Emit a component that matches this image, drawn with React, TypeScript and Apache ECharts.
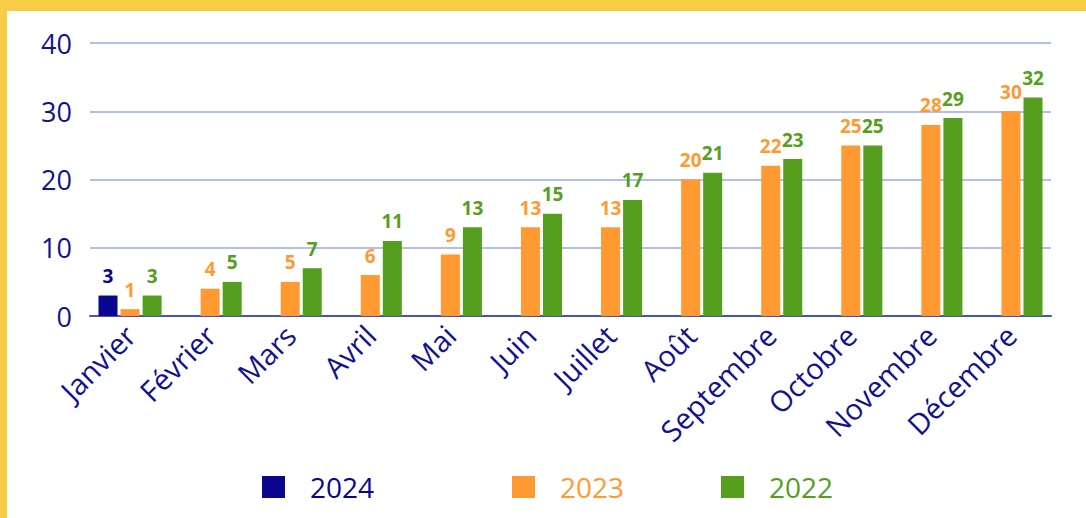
import React, { useEffect, useRef } from "react";
import * as echarts from "echarts";

const months = ["Janvier", "Février", "Mars", "Avril", "Mai", "Juin", "Juillet", "Août", "Septembre", "Octobre", "Novembre", "Décembre"];
const s2024: (number | null)[] = [3, null, null, null, null, null, null, null, null, null, null, null];
const s2023 = [1, 4, 5, 6, 9, 13, 13, 20, 22, 25, 28, 30];
const s2022 = [3, 5, 7, 11, 13, 15, 17, 21, 23, 25, 29, 32];
const yTicks = [0, 10, 20, 30, 40];

const NAVY = "#0B0690";
const ORANGE = "#FF9A33";
const GREEN = "#569E1E";
const TEXT = "#12128E";
const FONT = "'Open Sans', sans-serif";

export default function App() {
  const ref = useRef<HTMLDivElement>(null);
  useEffect(() => {
    document.body.style.margin = "0";
    const chart = echarts.init(ref.current!, null, { renderer: "svg" });
    const mkSeries = (name: string, data: (number | null)[], color: string) => ({
      name,
      type: "bar",
      data,
      barWidth: 19,
      barGap: "16%",
      itemStyle: { color },
      label: {
        show: true,
        position: "top",
        distance: 10,
        color,
        fontFamily: FONT,
        fontWeight: "bold",
        fontSize: 19,
      },
    });
    const mkLegend = (name: string, left: number, color: string) => ({
      data: [name],
      left,
      top: 468,
      icon: "rect",
      itemWidth: 23,
      itemHeight: 22,
      textStyle: { color, fontSize: 28, fontFamily: FONT, padding: [0, 0, 0, 20] },
      selectedMode: false,
    });
    chart.setOption({
      animation: false,
      backgroundColor: "#ffffff",
      graphic: [
        { type: "rect", shape: { x: 0, y: 0, width: 1086, height: 11 }, style: { fill: "#F8CD46" } },
        { type: "rect", shape: { x: 0, y: 0, width: 7, height: 518 }, style: { fill: "#F8CD46" } },
      ],
      legend: [mkLegend("2024", 257, NAVY), mkLegend("2023", 507, ORANGE), mkLegend("2022", 716, GREEN)],
      grid: { left: 90, right: 35, top: 43, bottom: 202, containLabel: false },
      xAxis: {
        type: "category",
        data: months,
        axisLine: { lineStyle: { color: "#4452C2", width: 2 } },
        axisTick: { show: false },
        axisLabel: { rotate: 45, margin: 14, color: TEXT, fontSize: 29, fontFamily: FONT, interval: 0 },
      },
      yAxis: {
        type: "value",
        min: yTicks[0],
        max: yTicks[yTicks.length - 1],
        interval: 10,
        axisLine: { show: false },
        axisTick: { show: false },
        splitLine: { lineStyle: { color: "#99A8E6", width: 1.5 } },
        axisLabel: { color: TEXT, fontSize: 27, fontFamily: FONT, margin: 18 },
      },
      series: [mkSeries("2024", s2024, NAVY), mkSeries("2023", s2023, ORANGE), mkSeries("2022", s2022, GREEN)],
    });
    return () => chart.dispose();
  }, []);
  return <div ref={ref} style={{ width: 1086, height: 518 }} />;
}
